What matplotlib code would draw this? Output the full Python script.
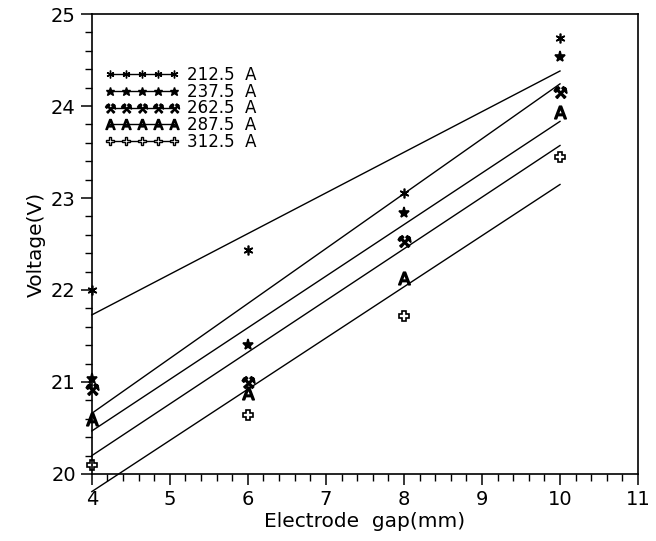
import numpy as np
import matplotlib
matplotlib.use("Agg")
import matplotlib.pyplot as plt
from matplotlib.lines import Line2D
from matplotlib.ticker import MultipleLocator

# Data
gap = [4, 6, 8, 10]
currents = ['212.5  A', '237.5  A', '262.5  A', '287.5  A', '312.5  A']
v_212 = [22.0, 22.43, 23.05, 24.74]
v_237 = [21.03, 21.40, 22.84, 24.53]
v_262 = [20.92, 21.0, 22.53, 24.15]
v_287 = [20.6, 20.88, 22.13, 23.93]
v_312 = [20.1, 20.64, 21.72, 23.45]

series = [v_212, v_237, v_262, v_287, v_312]
markers = [(6, 2, 0), '*', '$\u2692$', r'$\mathsf{A}$', 'P']
msizes = [7, 8, 9, 9, 7]
faces = ['k', 'k', 'k', 'k', 'white']

plt.rcParams['font.family'] = 'DejaVu Sans'
fig = plt.figure(figsize=(6.56, 5.41), dpi=100)
ax = fig.add_axes([0.140, 0.124, 0.8326, 0.850])

xfit = np.array([4, 10])
handles = []
for vals, m, ms, fc, lab in zip(series, markers, msizes, faces, currents):
    ax.plot(gap, vals, linestyle='none', marker=m, markersize=ms,
            color='k', markerfacecolor=fc, markeredgewidth=1.2, clip_on=False)
    # least-squares line through each current's points
    k, b = np.polyfit(gap, vals, 1)
    ax.plot(xfit, k * xfit + b, color='k', linewidth=1.0, clip_on=False)
    handles.append(Line2D([], [], color='k', linewidth=1.0, marker=m,
                          markersize=ms * 0.8, markerfacecolor=fc,
                          markeredgewidth=1.0, label=lab))

ax.set_xlim(4, 11)
ax.set_ylim(20, 25)
ax.xaxis.set_major_locator(MultipleLocator(1))
ax.xaxis.set_minor_locator(MultipleLocator(0.2))
ax.yaxis.set_major_locator(MultipleLocator(1))
ax.yaxis.set_minor_locator(MultipleLocator(0.2))
ax.tick_params(which='major', direction='out', length=8, width=1.1,
               labelsize=14, top=False, right=False)
ax.tick_params(which='minor', direction='out', length=5, width=1.0,
               top=False, right=False)
for s in ax.spines.values():
    s.set_linewidth(1.2)

ax.set_xlabel('Electrode  gap(mm)', fontsize=14.5, labelpad=2)
ax.set_ylabel('Voltage(V)', fontsize=14.5, labelpad=4)

ax.legend(handles=handles, loc='upper left', bbox_to_anchor=(0.025, 0.887),
          frameon=False, numpoints=5, handlelength=4.4, handletextpad=0.5,
          labelspacing=-0.08, fontsize=12, borderpad=0, borderaxespad=0)

plt.savefig('out.png', dpi=100)
